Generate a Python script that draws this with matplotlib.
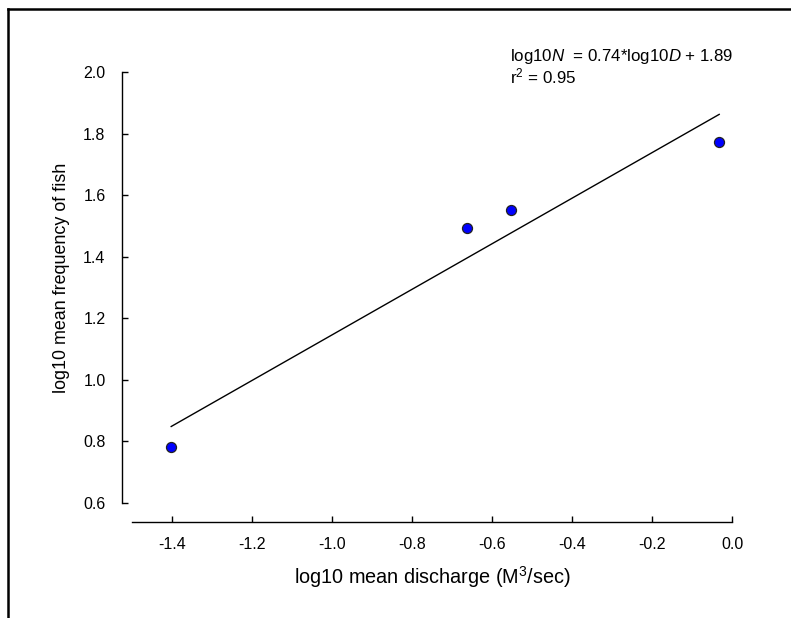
import matplotlib
matplotlib.use("Agg")
import matplotlib.pyplot as plt
from matplotlib.lines import Line2D
import numpy as np

plt.rcParams['font.family'] = ['Liberation Sans', 'DejaVu Sans']
plt.rcParams['mathtext.fontset'] = 'custom'
plt.rcParams['mathtext.rm'] = 'Liberation Sans'
plt.rcParams['mathtext.it'] = 'Liberation Sans:italic'

# Data
log_discharge = [-1.402, -0.663, -0.552, -0.032]
log_fish = [0.781, 1.492, 1.552, 1.772]
slope = 0.74
intercept = 1.886
x_ticks = [-1.4, -1.2, -1.0, -0.8, -0.6, -0.4, -0.2, 0.0]
y_ticks = [0.6, 0.8, 1.0, 1.2, 1.4, 1.6, 1.8, 2.0]

W, H = 791, 618
fig = plt.figure(figsize=(W / 100, H / 100), dpi=100)
ax = fig.add_axes([132 / W, 1 - 503 / H, 600 / W, 431 / H])

xs = np.array([min(log_discharge), max(log_discharge)])
ax.plot(xs, slope * xs + intercept, color='black', lw=1.0, zorder=2)
ax.scatter(log_discharge, log_fish, s=52, color='#0000FF', edgecolor='#222222',
           linewidth=0.9, zorder=3)

ax.set_xlim(-1.5, 0.0)
ax.set_ylim(0.6, 2.0)
ax.set_xticks(x_ticks)
ax.set_yticks(y_ticks)
ax.set_xticklabels([f"{v:.1f}" for v in x_ticks])
ax.set_yticklabels([f"{v:.1f}" for v in y_ticks])

for s in ['top', 'right']:
    ax.spines[s].set_visible(False)
ax.spines['left'].set_position(('outward', 7))
ax.spines['bottom'].set_position(('outward', 13.5))
ax.spines['left'].set_linewidth(1.0)
ax.spines['bottom'].set_linewidth(1.0)
ax.tick_params(direction='in', length=4, width=1.0, labelsize=11.5, pad=12)
ax.tick_params(axis='x', pad=11)

ax.set_xlabel('log10 mean discharge (M$^3$/sec)', fontsize=14.3, labelpad=9)
ax.set_ylabel('log10 mean frequency of fish', fontsize=12.9, va='center')
ax.yaxis.set_label_coords(-0.117, 0.522)

fig.text(510 / W, 1 - 56 / H, r'log10$\it{N}$  = 0.74*log10$\it{D}$ + 1.89',
         fontsize=12.2, va='center', ha='left')
fig.text(510 / W, 1 - 76 / H, r'r$^2$ = 0.95', fontsize=12.2, va='center', ha='left')

# Page frame (partly cut)
fig.add_artist(Line2D([7.7 / W, 7.7 / W], [0, 1 - 9.3 / H], transform=fig.transFigure,
                      color='black', lw=1.8))
fig.add_artist(Line2D([7.7 / W, 1], [1 - 9.3 / H, 1 - 9.3 / H], transform=fig.transFigure,
                      color='black', lw=1.8))

fig.savefig('out.png', dpi=100)
